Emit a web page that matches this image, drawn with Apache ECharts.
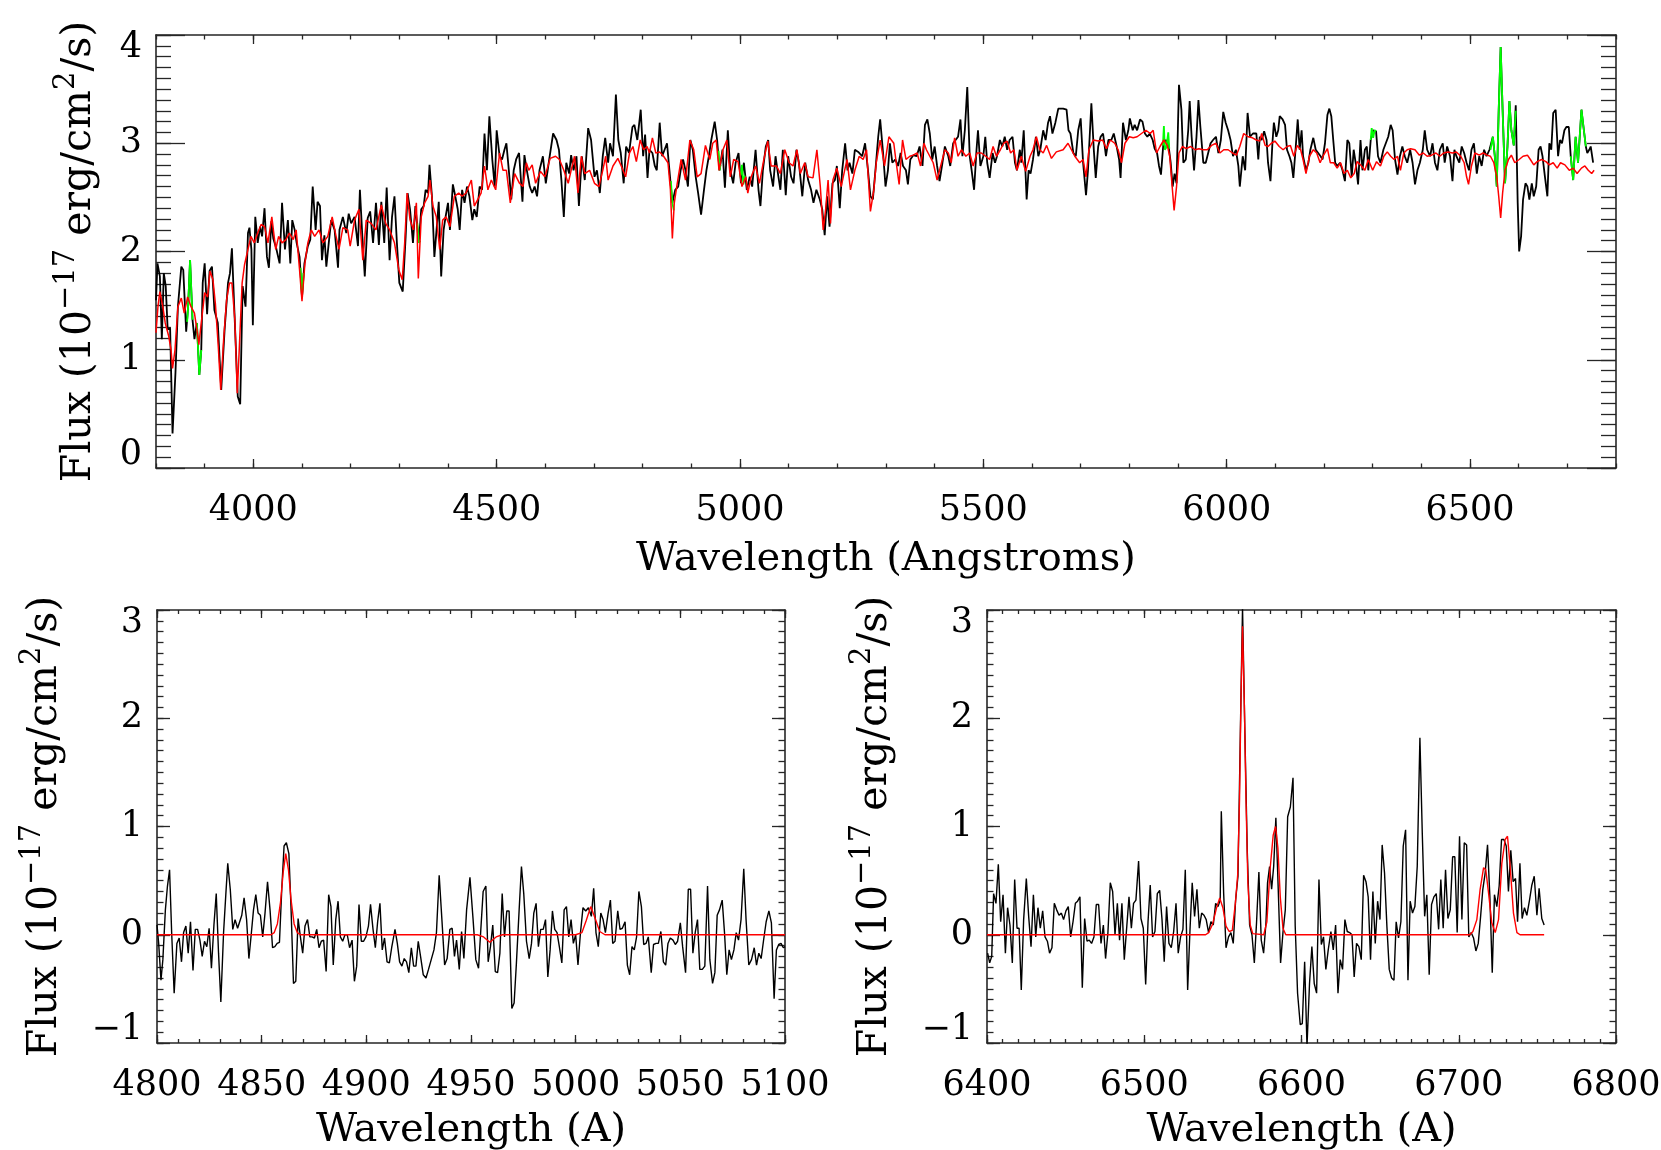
<!DOCTYPE html>
<html>
<head>
<meta charset="utf-8">
<script src="https://cdn.jsdelivr.net/npm/echarts@6/dist/echarts.min.js"></script>
<style>
  html, body { margin: 0; padding: 0; background: #fff; }
  #main { width: 1661px; height: 1150px; }
</style>
</head>
<body>
<div id="main"></div>
<script>
// ---------- data ----------
// top panel: observed spectrum (black)
var topObsWave = [
  3800,3803,3808,3812,3816,3820,3824,3829,3834,3840,
  3845,3852,3856,3862,3866,3870,3875,3879,3884,3889,
  3893,3896,3900,3905,3910,3915,3920,3927,3934,3941,
  3948,3952,3956,3961,3968,3973,3978,3984,3989,3992,
  3996,3999,4004,4009,4014,4018,4023,4028,4032,4037,
  4041,4047,4054,4059,4065,4071,4076,4080,4085,4089,
  4095,4100,4105,4112,4117,4122,4128,4132,4137,4141,
  4146,4150,4155,4160,4167,4174,4177,4184,4191,4196,
  4201,4208,4215,4219,4224,4229,4235,4240,4246,4252,
  4258,4263,4269,4274,4280,4285,4290,4295,4300,4307,
  4313,4317,4322,4328,4333,4340,4345,4350,4354,4359,
  4362,4367,4372,4377,4381,4386,4391,4395,4400,4404,
  4410,4415,4420,4424,4429,4434,4439,4444,4450,4454,
  4459,4465,4470,4475,4480,4485,4491,4496,4500,4506,
  4511,4516,4520,4525,4530,4535,4540,4546,
  4553,4557,4562,4568,4573,4578,4583,4588,4595,4601,
  4607,4616,4623,4628,4633,4638,4643,4649,4653,4658,
  4664,4669,4675,4681,4688,4694,4701,4706,4712,4718,
  4723,4729,4733,4739,4745,4750,4755,4761,4766,4772,
  4779,4783,4789,4796,4801,4805,4810,4814,4820,4825,
  4829,4835,4840,4845,4850,4855,4861,4867,4873,4878,
  4883,4888,4893,4898,4903,4909,4914,4920,4926,4931,
  4936,4941,4948,4953,4958,4964,4969,4975,4980,4986,
  4991,4997,5002,5008,5014,5020,5025,5032,5038,5042,
  5047,5053,5058,5062,5068,5073,5078,5083,5088,5094,
  5099,5105,5110,5116,5121,5128,5134,5140,5146,5151,
  5157,5164,5169,5174,5179,5184,5190,5195,5199,5205,
  5210,5216,5221,5225,5231,5236,5243,5251,5257,5263,
  5268,5273,5279,5284,5288,5294,5299,5304,
  5308,5313,5319,5325,5330,5335,5341,5345,5350,5356,
  5363,5369,5375,5380,5385,5390,5395,5400,5405,5410,
  5416,5421,5428,5432,5438,5443,5448,5453,5457,5462,
  5467,5472,5476,5481,5486,5489,5494,5500,5504,5508,
  5513,5519,5524,5528,5534,5539,5544,5549,5554,5560,
  5565,5569,5575,5578,5583,5589,5593,5597,5602,5608,
  5613,5617,5623,5628,5633,5637,5642,5648,5654,5664,
  5671,5675,5679,5685,5690,5695,5700,5705,5711,5715,
  5722,5727,5731,5736,5741,5746,5752,5757,5763,5768,
  5774,5779,5782,5787,5793,5798,5801,5807,5811,5816,
  5822,5827,5832,5837,5842,5848,5852,5857,5861,5865,
  5870,5875,5880,5885,5889,5893,5897,5902,5907,5911,
  5916,5921,5924,5928,5933,5938,5942,5946,5952,5957,
  5962,5967,5972,5978,5983,5988,5993,5998,6003,6008,
  6013,6019,6024,6027,6033,6038,6043,6048,6054,6061,
  6065,
  6068,6072,6077,6082,6085,6090,6094,6097,6102,6106,
  6109,6115,6120,6124,6129,6133,6137,6142,6146,6150,
  6154,6157,6163,6168,6172,6178,6183,6188,6193,6197,
  6202,6207,6211,6215,6219,6223,6227,6233,6238,6243,
  6248,6252,6257,6261,6266,6270,6275,6279,6284,6288,
  6291,6296,6301,6307,6311,6316,6322,6327,6332,6337,
  6341,6346,6351,6356,6361,6366,6371,6377,6382,6387,
  6392,6397,6403,6407,6412,6418,6423,6428,6433,6438,
  6444,6448,6453,6459,6464,6468,6472,6478,6483,6488,
  6493,6498,6503,6508,6514,6519,6524,6529,6534,6540,
  6542,6547,6551,6555,6559,6563,6567,6572,6577,6581,
  6585,6590,6594,6598,6601,6605,6609,6614,6618,6622,
  6627,6631,6636,6641,6645,6649,6654,6659,6663,6667,
  6671,6676,6681,6685,6689,6694,6698,6703,6707,6709,
  6712,6717,6722,6729,6734,6738,6741,6745,6748,6753
];
var topObsFlux = [
  1.55,1.89,1.77,1.19,1.80,1.68,1.28,1.29,0.32,0.88,
  1.49,1.86,1.83,1.26,1.49,1.92,1.37,1.19,1.34,0.86,
  1.09,1.71,1.89,1.42,1.82,1.86,1.46,1.34,0.72,1.28,
  1.71,1.80,2.03,1.46,0.66,0.59,1.68,1.49,2.17,2.22,
  2.02,1.32,2.32,2.08,2.23,2.14,2.40,1.95,1.85,2.28,
  2.12,2.03,1.89,2.45,2.02,2.29,1.89,2.29,2.20,2.08,
  1.95,1.58,1.89,2.05,2.11,2.60,2.20,2.46,2.42,1.92,
  2.15,1.86,2.08,2.29,2.20,1.85,2.20,2.32,2.17,2.35,
  2.26,2.32,2.05,2.57,2.14,1.77,2.31,2.37,2.08,2.45,
  2.06,2.46,2.08,2.59,1.92,2.32,2.51,2.08,1.71,1.63,
  2.14,2.54,2.39,2.08,2.42,2.08,2.39,2.42,2.57,2.54,
  2.80,2.51,1.95,2.23,2.46,1.77,2.20,2.32,2.45,2.20,
  2.62,2.51,2.39,2.20,2.57,2.45,2.60,2.51,2.29,2.39,
  2.32,2.60,2.57,3.09,2.75,3.25,2.85,2.60,3.12,2.88,
  2.85,2.94,3.00,2.75,2.48,2.75,2.85,2.91,
  2.46,2.89,2.75,2.60,2.54,2.60,2.51,2.75,2.88,2.63,
  2.82,3.09,3.03,2.94,2.66,2.32,2.82,2.72,2.89,2.75,
  2.88,2.42,2.88,2.66,3.14,3.03,2.69,2.75,2.54,2.88,
  3.05,2.82,3.00,2.88,3.45,3.03,2.91,2.63,2.97,2.91,
  3.15,3.17,3.03,3.31,2.88,3.08,2.68,2.94,2.91,2.79,
  2.75,3.19,2.88,2.94,3.00,2.75,2.45,2.57,2.60,2.75,
  2.85,2.75,2.60,3.03,2.94,2.69,2.54,2.34,2.57,2.75,
  2.88,3.03,3.20,3.03,2.75,2.94,2.59,3.12,2.75,2.63,
  2.82,2.91,2.63,2.82,2.57,2.69,2.60,2.94,2.57,2.42,
  2.75,2.97,3.03,2.75,2.60,2.88,2.72,2.57,2.94,2.52,
  2.88,2.69,2.63,2.94,2.82,2.51,2.82,2.66,2.57,2.45,
  2.57,2.48,2.39,2.15,2.51,2.23,2.63,2.66,2.79,2.40,
  2.75,3.00,2.75,2.82,2.72,2.94,2.92,2.88,3.00,2.75,
  2.51,2.48,2.79,3.06,3.22,2.91,2.60,2.75,
  3.00,2.82,2.85,2.79,2.91,2.79,2.75,2.62,2.85,2.89,
  2.88,2.97,2.79,3.17,3.22,3.09,2.85,2.97,2.79,2.65,
  2.82,2.97,2.88,2.79,3.00,3.03,3.06,3.22,2.88,3.12,
  3.52,2.88,2.75,2.57,2.94,3.12,2.79,2.88,3.06,2.82,
  2.68,2.91,2.82,2.88,3.03,2.97,3.06,2.94,3.03,3.06,
  2.82,2.75,2.94,2.82,3.12,2.48,2.75,2.72,2.85,3.06,
  2.88,2.94,3.12,3.03,3.19,3.25,3.09,3.19,3.32,3.32,
  3.31,3.12,3.09,2.91,2.88,3.12,3.23,2.82,2.52,2.75,
  3.37,2.94,2.68,2.97,3.06,3.09,2.88,3.03,3.03,3.09,
  2.97,2.85,2.68,3.19,3.03,3.12,3.23,3.12,3.17,3.12,
  3.22,3.20,3.09,3.06,3.09,3.03,2.95,2.91,2.79,2.71,
  3.00,3.03,3.00,2.82,2.60,2.72,2.63,3.54,3.31,2.82,
  2.85,3.12,3.39,3.06,2.75,3.06,3.40,3.15,2.82,2.82,
  2.91,3.00,3.03,3.06,2.91,3.03,3.29,3.19,3.12,3.03,
  2.88,2.94,2.79,2.60,2.88,2.75,3.28,3.06,3.09,3.09,
  2.85,
  3.06,3.03,3.11,3.03,2.82,2.65,3.00,3.19,3.06,3.12,
  3.25,3.22,3.17,2.94,2.88,2.82,2.68,2.97,3.22,2.94,
  3.12,2.88,2.75,2.82,2.94,3.05,2.94,2.91,2.88,2.85,
  3.00,3.26,3.32,3.25,3.03,2.82,2.79,2.82,2.75,2.65,
  3.03,3.00,2.69,2.94,2.79,2.62,3.03,2.75,2.94,2.97,
  2.75,3.03,3.12,3.11,2.88,2.82,2.94,3.00,3.06,3.17,
  3.12,2.85,2.71,2.88,2.97,2.88,2.82,2.94,2.82,2.62,
  2.75,2.82,2.94,3.12,2.94,2.88,3.00,2.82,2.75,2.94,
  3.00,2.82,2.97,2.88,2.65,2.94,2.88,2.82,2.97,2.91,
  2.82,2.75,2.94,3.00,2.72,2.88,2.79,2.94,2.88,2.94,
  2.94,3.06,2.88,2.60,3.31,3.89,3.31,2.63,2.97,3.39,
  3.12,2.98,3.35,2.45,2.00,2.14,2.48,2.63,2.60,2.48,
  2.63,2.51,2.60,2.94,2.97,2.88,2.69,2.51,3.00,2.94,
  3.28,3.31,2.88,3.03,3.00,3.12,3.15,3.15,2.88,2.79,
  2.66,3.06,2.82,3.31,3.12,2.97,2.91,2.94,2.97,2.82
];

// top panel: model spectrum (red)
var topModelWave = [
  3800,3804,3808,3814,3819,3826,3831,3834,3839,3845,
  3852,3858,3865,3872,3879,3884,3888,3893,3900,3906,
  3911,3917,3922,3928,3933,3939,3945,3951,3956,3962,
  3967,3971,3977,3982,3989,3995,4002,4009,4016,4023,
  4030,4038,4046,4052,4059,4067,4074,4082,4088,4095,
  4100,4106,4112,4119,4126,4135,4143,4153,4162,4170,
  4176,4184,4194,4199,4208,4217,4225,4232,4242,4252,
  4263,4272,4280,4290,4299,4306,4311,4316,4322,4329,
  4335,4339,4345,4352,4359,4363,4369,4376,4383,4389,
  4396,4404,4413,4422,4429,4437,4448,4454,4461,4468,
  4475,4482,4489,4498,4506,4513,4520,4528,4537,4547,
  4554,4561,4566,4573,4580,4590,4599,4610,4621,4629,
  4638,4647,4653,4660,4667,4674,4681,4691,4701,4710,
  4718,4724,4729,4739,4749,4756,4765,4773,4780,4787,
  4795,4802,4809,4814,4820,4827,4835,4843,4852,4857,
  4861,4865,4870,4879,4888,4897,4905,4912,4920,4929,
  4938,4944,4951,4957,4965,4973,4980,4987,4996,5004,
  5012,5016,5023,5032,5040,5049,5057,5064,5075,5083,
  5092,5101,5109,5117,5124,5133,5140,5150,5158,5165,
  5171,5176,5181,5186,5191,5199,5208,5215,5220,5227,
  5236,5245,5253,5260,5268,5275,5280,5288,5297,5306,
  5310,5316,5321,5327,5334,5341,5349,5356,5364,5371,
  5378,5383,5390,5397,5405,5414,5421,5428,5434,5441,
  5448,5455,5464,5472,5479,5487,5496,5505,5513,5520,
  5527,5535,5542,5549,5556,5563,5569,5578,5587,5596,
  5602,5609,5616,5623,5630,5640,5650,5664,5674,5681,
  5688,5698,5705,5711,5717,5726,5736,5745,5753,5761,
  5770,5777,5784,5791,5800,5808,5816,5825,5834,5843,
  5849,5856,5863,5871,5878,5883,5888,5892,5897,5902,
  5909,5917,5926,5935,5943,5952,5960,5969,5978,5986,
  5994,6003,6012,6020,6027,6035,6044,6053,6061,6068,
  6072,6079,6085,6092,6099,6108,6116,6124,6131,6138,
  6145,6152,6157,6163,6170,6178,6185,6192,6198,6207,
  6213,6220,6227,6234,6241,6248,6255,6262,6268,6275,
  6284,6291,6300,6308,6316,6323,6330,6337,6344,6351,
  6357,6364,6371,6378,6387,6396,6404,6412,6421,6430,
  6438,6446,6455,6464,6472,6481,6488,6493,6497,6503,
  6510,6519,6527,6535,6542,6549,6555,6559,6563,6567,
  6572,6579,6585,6592,6601,6609,6618,6624,6631,6638,
  6647,6656,6663,6671,6679,6686,6695,6704,6712,6720,
  6729,6736,6743,6750,6755
];
var topModelFlux = [
  1.25,1.49,1.63,1.49,1.34,1.22,1.09,0.92,1.09,1.49,
  1.57,1.43,1.58,1.49,1.43,1.28,1.14,1.34,1.62,1.58,
  1.82,1.74,1.52,1.12,0.72,1.19,1.55,1.71,1.71,1.37,
  0.69,1.09,1.71,1.88,2.02,2.14,2.08,2.17,2.25,2.23,
  2.08,2.32,2.02,2.14,2.08,2.11,2.17,2.11,2.20,1.83,
  1.54,1.89,2.08,2.20,2.14,2.20,2.08,2.14,2.32,2.14,
  2.02,2.22,2.20,2.05,2.29,2.39,1.92,2.29,2.26,2.20,
  2.43,2.26,2.20,2.08,1.83,1.74,2.08,2.54,2.29,2.20,
  2.45,1.75,2.32,2.45,2.51,2.66,2.42,2.32,2.02,2.29,
  2.32,2.23,2.51,2.54,2.51,2.54,2.66,2.42,2.48,2.54,
  2.79,2.57,2.66,2.57,2.91,2.75,2.75,2.45,2.72,2.63,
  2.60,2.82,2.75,2.80,2.63,2.74,2.69,2.86,2.88,2.85,
  2.75,2.63,2.75,2.88,2.54,2.88,2.72,2.75,2.63,2.60,
  2.75,2.88,2.66,2.79,2.86,2.79,2.69,2.91,2.97,2.83,
  3.03,2.94,2.97,2.91,3.05,2.91,2.92,2.88,2.82,2.57,
  2.12,2.45,2.60,2.85,2.66,3.03,2.94,2.69,2.72,2.98,
  2.85,3.00,3.03,2.75,2.94,3.03,2.69,2.85,2.83,2.60,
  2.69,2.54,2.69,2.79,2.63,2.85,3.02,2.79,2.79,2.72,
  2.94,2.82,2.79,2.94,2.72,2.82,2.69,2.68,2.94,2.60,
  2.20,2.39,2.66,2.26,2.66,2.77,2.60,2.75,2.85,2.57,
  2.75,2.88,2.85,2.94,2.37,2.57,2.82,3.03,2.79,3.06,
  3.06,3.00,2.82,2.62,3.03,2.85,2.88,2.89,2.91,2.79,
  3.00,2.94,2.88,2.82,2.66,2.82,2.94,2.91,2.82,3.05,
  2.88,2.94,2.88,2.91,2.79,2.91,2.91,2.88,2.85,2.97,
  2.88,2.94,3.00,3.02,2.91,2.94,2.75,2.88,2.74,2.88,
  2.94,3.06,2.94,2.91,2.98,2.86,2.92,2.94,3.00,2.94,
  2.88,2.82,2.85,2.69,2.94,3.03,3.02,3.03,2.95,3.03,
  3.00,2.94,2.82,3.00,3.06,3.05,3.06,3.09,3.12,3.09,
  3.12,2.91,2.97,3.03,2.98,2.88,2.60,2.38,2.60,2.91,
  2.97,2.95,2.97,2.94,2.95,2.94,2.94,2.98,3.00,2.91,
  2.94,2.94,2.91,2.89,2.97,3.09,3.06,3.05,3.03,3.02,
  3.09,2.98,2.97,3.00,3.02,2.97,2.94,2.97,2.98,2.88,
  2.98,2.94,2.85,2.72,2.88,2.94,2.91,2.82,2.88,2.95,
  2.82,2.82,2.77,2.82,2.72,2.75,2.68,2.72,2.83,2.80,
  2.75,2.85,2.75,2.83,2.79,2.88,2.92,2.88,2.85,2.88,
  2.75,2.91,2.94,2.95,2.94,2.89,2.91,2.88,2.89,2.91,
  2.88,2.91,2.92,2.91,2.92,2.88,2.82,2.69,2.62,2.79,
  2.91,2.89,2.91,2.89,2.88,2.82,2.69,2.51,2.31,2.54,
  2.75,2.85,2.89,2.82,2.85,2.88,2.89,2.85,2.80,2.83,
  2.85,2.83,2.80,2.82,2.77,2.82,2.80,2.75,2.77,2.72,
  2.77,2.79,2.75,2.72,2.75
];

// top panel: masked pixels (green), null = gap between masked runs
var maskWave = [
  3864,3866,3870,3875, 3880, 3884,3889,3893, 3990, 4097,4100,4103, 4200,
  4337,4340,4343, 4600, 4858,4861,4864, 4900, 4956,4958,4960, 4980,
  5001,5004,5007,5010, 5500, 5869,5871,5873,5876,5880,5882, 6000,
  6296,6298,6301,6304,6307, 6400,
  6542,6547,6551,6555,6559,6563,6567,6572,6577,6581,6585,6590,6594, 6650,
  6707,6709,6712,6717,6722,6729,6734,6738
];
var maskFlux = [
  1.35,1.49,1.92,1.37, null, 1.34,0.86,1.09, null, 1.85,1.58,1.80, null,
  2.26,2.08,2.10, null, 2.65,2.45,2.38, null, 2.93,2.75,2.80, null,
  2.70,2.80,2.62,2.70, null, 2.98,3.16,2.94,2.96,3.10,2.95, null,
  3.03,3.14,3.05,3.12,3.11, null,
  2.94,3.06,2.88,2.60,3.31,3.89,3.31,2.63,2.97,3.39,3.12,2.98,3.30, null,
  2.88,2.79,2.66,3.06,2.82,3.31,3.12,2.97
];

// bottom left: H-beta / [OIII] window, continuum subtracted
var hbWave = [
  4800,4800.8,4801.9,4802.8,4804,4805,4806,4807,4808.2,4809.5,
  4810.6,4811.7,4812.7,4813.8,4814.9,4816,4817.2,4818.3,4819.4,4820.5,
  4821.6,4822.7,4823.8,4824.9,4826,4827.2,4828.3,4829.4,4830.5,4831.8,
  4832.9,4833.8,4835,4836.2,4837.3,4838.5,4839.4,4840.5,4841.6,4842.8,
  4843.9,4845,4846.1,4847.2,4848.3,4849.4,4850.5,4851.6,4852.8,4854,
  4855.2,4856.3,4857.4,4858.5,4859.6,4860.7,4861.8,4863,4864,4865.2,
  4866.3,4867.4,4868.5,4869.6,4870.7,4871.9,4873,4874.1,4875.2,4876.3,
  4877.4,4878.5,4879.6,4880.8,4882,4883.1,4884.2,4885.4,4886.5,4887.6,
  4888.7,4889.8,4890.9,4892,4893.2,4894.3,4895.4,4896.5,4897.6,4898.7,
  4899.8,4901,4902,4903.2,4904.3,4905.4,4906.5,4907.6,4908.7,4909.9,
  4911,4912.1,4913.7,4914.8,4915.9,4917,4918.1,4919.2,4920.3,4921.5,
  4922.6,4923.7,4924.8,4925.9,4927.2,4928.5,4929.7,4931,4932.3,4933.5,
  4934.8,4936.1,4937.4,4938.6,4939.9,4941,4942.1,4943.1,4944.4,4945.5,
  4946.6,4947.9,4949.5,4951,4952.3,4953.6,4954.6,4955.8,4957.1,4958.2,
  4959.3,4960.4,4961.6,4962.7,4963.8,4964.9,4966,4967.1,4968.2,4969.5,
  4970.6,4971.7,4973,4974.1,4975.2,4976.5,4977.8,4978.9,4980,4981.1,
  4982.2,4983.3,4984.5,4985.6,4986.7,4987.8,4988.9,4990,4991.1,4992.2,
  4993.4,4994.5,4995.6,4996.7,4997.8,4998.9,5000,5001.1,5002.3,5003.5,
  5004.8,5006.1,5007.5,5008.6,5009.7,5010.8,5012,5013.1,5014.2,5015.5,
  5016.6,5017.7,5018.8,5020.1,5021.2,5022.3,5023.6,5024.7,5025.8,5026.9,
  5028,5029.1,5030.2,5031.4,5032.5,5033.6,5034.7,5036.1,5037.2,5038.4,
  5039.5,5040.7,5041.9,5043,5044.1,5045.2,5046.5,5047.6,5048.7,5050,
  5051.1,5052.5,5053.8,5054.9,5056,5057.1,5058.2,5059.3,5060.5,5061.7,
  5063,5064.1,5065.4,5066.5,5067.6,5068.7,5070,5071.1,5072.2,5073.3,
  5074.4,5075.6,5076.7,5077.8,5079,5080.3,5081.4,5082.7,5084,5085.3,
  5086.4,5087.5,5088.6,5089.7,5091,5092.3,5093.5,5094.8,5095.9,5097,
  5098.1,5099.2,5100
];
var hbFlux = [
  0.09,-0.08,-0.42,-0.23,0.23,0.45,0.60,0.02,-0.54,-0.08,
  -0.03,-0.25,0.02,0.08,-0.17,0.12,-0.33,0.05,0.05,-0.05,
  -0.20,-0.06,-0.11,0.06,-0.31,0.09,0.38,-0.17,-0.62,0.02,
  0.38,0.66,0.42,0.05,0.14,0.06,0.05,0.18,0.34,0.14,
  -0.22,0.00,0.23,0.37,0.20,0.18,-0.02,0.20,0.49,0.23,
  -0.12,-0.11,-0.08,-0.07,0.42,0.82,0.85,0.75,0.26,-0.45,
  -0.43,0.15,-0.02,-0.17,0.08,0.14,-0.02,-0.02,-0.03,0.05,
  -0.12,-0.06,-0.05,-0.34,0.37,0.26,-0.28,0.14,0.31,-0.02,
  -0.06,0.00,0.00,-0.12,-0.05,-0.43,-0.29,0.28,-0.06,-0.06,
  -0.02,0.08,0.28,0.05,-0.12,0.12,0.29,-0.14,-0.03,-0.25,
  -0.26,-0.12,0.05,-0.08,-0.25,-0.29,-0.22,-0.25,-0.35,-0.12,
  -0.29,-0.29,-0.06,-0.20,-0.37,-0.40,-0.32,-0.23,-0.14,0.02,
  0.55,0.14,-0.28,-0.22,0.05,0.06,-0.20,-0.05,-0.32,0.03,
  -0.22,0.23,0.53,0.14,-0.23,-0.31,0.02,0.40,0.45,-0.25,
  -0.11,0.09,-0.34,-0.35,-0.17,0.38,-0.02,0.22,0.22,-0.68,
  -0.63,-0.26,0.23,0.63,0.38,-0.06,-0.22,-0.08,0.20,0.29,
  -0.11,0.05,0.05,0.14,-0.39,-0.14,0.22,0.05,0.02,-0.11,
  -0.26,0.23,0.26,-0.02,0.14,-0.08,0.00,-0.28,0.02,0.25,
  0.22,0.25,0.17,0.43,0.02,-0.11,0.20,0.14,0.02,0.20,
  0.32,-0.08,-0.06,0.22,0.05,0.06,0.12,-0.28,-0.37,-0.11,
  -0.14,-0.02,0.40,0.26,-0.09,-0.08,-0.02,-0.35,-0.09,-0.08,
  -0.08,0.03,-0.25,-0.28,-0.08,-0.03,-0.05,-0.09,-0.06,0.11,
  -0.11,-0.35,0.42,0.42,-0.17,0.02,0.14,-0.32,-0.32,-0.29,
  0.45,-0.23,-0.45,-0.35,0.18,0.23,0.32,0.02,-0.37,-0.14,
  -0.23,-0.14,0.02,-0.05,0.14,0.61,0.14,-0.28,-0.23,-0.12,
  -0.28,-0.17,-0.22,-0.06,0.12,0.22,0.11,-0.59,-0.14,-0.09,
  -0.08,-0.12,-0.11
];
var hbModelWave = [4800,4854.5,4856,4857.5,4859,4860.3,4861.5,4862.8,4864,4865.5,4867,4868.5,
                   4953,4956,4959,4962,4965,5000,5003,5005,5007.2,5009.5,5011.5,5014,5100];
var hbModelFlux = [0,0,0.02,0.10,0.30,0.58,0.75,0.60,0.33,0.10,0.02,0,
                   0,-0.02,-0.07,-0.02,0,0,0.02,0.13,0.26,0.14,0.03,0,0];

// bottom right: H-alpha / [NII] / [SII] window, continuum subtracted
var haWave = [
  6400.4,6401.7,6403,6404.2,6405.7,6407.2,6408.7,6410.2,6411.7,6413.1,
  6414.6,6416.1,6417.6,6419.1,6420.4,6421.8,6423.3,6425,6426.5,6428,
  6429.5,6431,6432.4,6433.9,6435.4,6436.9,6438.4,6439.8,6441.3,6442.8,
  6444.3,6445.8,6447.3,6448.7,6450.2,6451.7,6453.2,6454.7,6456.2,6457.6,
  6459.1,6460.6,6462.1,6463.6,6465,6466.5,6468,6469.5,6471,6472.5,
  6474,6475.4,6476.9,6478.4,6479.9,6481.4,6482.9,6484.3,6485.8,6487.3,
  6488.8,6490.3,6491.8,6493.2,6494.7,6496.4,6497.9,6499.4,6500.9,6502.4,
  6503.8,6505.3,6506.8,6508.3,6509.8,6511.3,6512.7,6514.2,6515.7,6517.2,
  6518.7,6520.2,6521.6,6523.1,6524.6,6526.1,6527.6,6529.1,6530.5,6532,
  6533.5,6535,6536.5,6538,6539.4,6540.9,6542.4,6543.9,6545.4,6546.9,
  6548.3,6549,6550.5,6552,6553.6,6555.1,6556.6,6558.1,6559.6,6561.1,
  6562.5,6564,6565.5,6567,6568.5,6570,6571.4,6572.9,6574.4,6575.9,
  6577.4,6578.4,6579.7,6581,6582.3,6583.7,6585.2,6586.7,6588.2,6589.7,
  6591.2,6592.9,6594.6,6596,6597.5,6599.2,6600.5,6602,6603.5,6605.1,
  6606.6,6608.1,6609.6,6611.1,6612.6,6614,6615.5,6617,6618.7,6620.2,
  6621.7,6623.2,6624.6,6626.1,6627.6,6629.1,6630.6,6632.1,6633.5,6635,
  6636.5,6638,6639.5,6641,6642.4,6643.9,6645.4,6646.9,6648.4,6649.9,
  6651.3,6652.8,6654.3,6655.8,6657.3,6658.8,6660.2,6661.7,6663.2,6664.7,
  6666.2,6667.7,6669.1,6670.6,6672.1,6673.6,6675.3,6676.8,6678.3,6679.7,
  6681.2,6682.7,6684.2,6685.7,6687.2,6688.6,6690.1,6691.6,6693.1,6694.6,
  6696.1,6697.5,6699,6700.5,6702,6703.5,6705,6706.4,6707.9,6709.4,
  6710.9,6712.4,6713.9,6715.3,6716.8,6718.3,6719.8,6721.3,6722.7,6724.2,
  6725.7,6727.2,6728.7,6730.2,6731.6,6733.1,6734.6,6736.1,6737.4,6738.9,
  6740.3,6741.8,6743.3,6745,6746.5,6748,6749.7,6751.1,6752.8,6754.3
];
var haFlux = [
  -0.17,-0.26,-0.20,0.38,0.29,0.65,0.12,0.37,-0.17,0.25,
  0.09,-0.26,0.51,0.06,0.06,-0.51,0.14,0.52,0.17,-0.11,
  0.37,-0.02,0.25,0.06,0.22,-0.02,-0.06,-0.17,-0.12,0.29,
  0.23,0.18,0.20,0.14,0.22,0.26,-0.02,0.12,0.29,0.31,
  0.35,-0.49,0.15,-0.06,-0.05,-0.08,-0.02,0.28,0.28,-0.08,
  0.09,-0.22,0.02,0.48,0.40,0.00,0.29,-0.05,0.29,-0.23,
  0.06,0.35,0.06,0.29,0.32,0.68,0.15,0.06,-0.46,0.12,
  0.46,-0.02,0.03,0.38,0.41,0.14,-0.25,0.26,-0.08,-0.12,
  0.03,0.29,-0.17,-0.02,0.05,0.60,-0.51,0.05,0.48,0.17,
  0.42,0.06,0.20,0.18,0.14,0.02,0.12,0.09,0.29,0.26,
  0.32,1.14,0.38,-0.12,-0.02,0.02,-0.08,0.32,0.54,1.86,
  3.02,1.86,0.78,0.09,0.00,-0.26,0.11,0.58,-0.05,-0.17,
  0.11,0.48,0.63,0.42,0.63,1.08,0.42,-0.26,0.02,0.23,
  1.09,1.18,1.45,0.08,-0.54,-0.83,-0.82,-0.25,-1.03,-0.45,
  -0.11,-0.45,-0.54,0.51,-0.09,-0.02,-0.32,-0.14,0.03,-0.14,
  0.09,-0.54,-0.23,-0.32,0.14,0.03,0.02,0.00,-0.39,-0.08,
  -0.11,-0.23,0.55,0.49,0.35,-0.23,0.40,-0.08,0.31,0.14,
  0.83,0.57,0.08,-0.32,-0.40,-0.42,0.12,-0.03,0.12,0.82,
  0.97,-0.42,0.31,0.20,0.26,0.63,1.82,0.94,0.17,0.37,
  -0.37,0.28,0.35,0.38,0.05,0.51,0.06,0.60,0.15,0.23,
  0.72,0.72,0.02,0.91,0.14,0.85,0.83,-0.02,0.02,-0.03,
  -0.15,-0.08,0.17,0.42,0.57,0.83,0.35,-0.35,0.37,0.26,
  0.45,0.88,0.88,0.82,0.40,0.78,0.49,0.52,0.12,0.66,
  0.15,0.25,0.18,0.32,0.46,0.54,0.18,0.43,0.15,0.09
];
var haModelWave = [6400,6539,6541,6543.5,6546,6548,6550,6552,6554,6556,6558,6559.4,6560.6,6561.5,
                   6562.5,6563.6,6564.7,6565.9,6567.4,6569,6576,6578,6580,6582,6583.5,6585,6586.5,
                   6588.2,6590,6707,6709,6711.5,6713.6,6715.8,6717.2,6719,6721,6723.2,6725.3,
                   6727.4,6729.5,6731,6732.7,6734.8,6737,6739,6754.3];
var haModelFlux = [0,0,0.02,0.10,0.25,0.34,0.25,0.08,0.03,0.04,0.30,0.55,1.25,2.17,
                   2.85,2.17,1.25,0.48,0.09,0.01,0,0.12,0.60,0.92,1.00,0.80,0.35,
                   0.06,0,0,0.03,0.14,0.42,0.62,0.60,0.38,0.11,0.02,0.14,
                   0.66,0.88,0.91,0.63,0.20,0.02,0,0];

// axis ranges and tick labels
var topXMajors = [4000, 4500, 5000, 5500, 6000, 6500];
var topYMajors = [0, 1, 2, 3, 4];
var hbXMajors = [4800, 4850, 4900, 4950, 5000, 5050, 5100];
var haXMajors = [6400, 6500, 6600, 6700, 6800];
var lowYMajors = [-1, 0, 1, 2, 3];

// ---------- styling ----------
var FONT = 'DejaVu Serif';
var INK = '#000';
var FRAME = '#262626';
var TICK_SIZE = 35;
var TITLE_SIZE = 40;

function zip(w, f) {
  var out = [];
  for (var i = 0; i < w.length; i++) out.push([w[i], f[i]]);
  return out;
}

function fmtNum(v) { return v < 0 ? '\u2212' + Math.abs(v) : String(v); }

// IDL pulls the first/last y label inside the box
function tickLabels(majors, isY) {
  var lo = majors[0], hi = majors[majors.length - 1];
  return {
    show: true, customValues: majors, color: INK, fontFamily: FONT, fontSize: TICK_SIZE,
    margin: isY ? 14 : 25,
    formatter: function (v) {
      var r = Math.round(v * 1000) / 1000;
      if (majors.indexOf(r) < 0) return '';
      var s = fmtNum(r);
      if (isY && r === hi) return '{dn|' + s + '}';
      if (isY && r === lo) return '{up|' + s + '}';
      return s;
    },
    rich: {
      dn: { fontFamily: FONT, fontSize: TICK_SIZE, color: INK, padding: [26, 0, 0, 0] },
      up: { fontFamily: FONT, fontSize: TICK_SIZE, color: INK, padding: [0, 0, 26, 0] }
    }
  };
}

// 4 axes per direction: minor ticks + line on both sides, long major ticks on both sides
function frameAxes(gridIndex, sides, range, minorStep, majors, majorLen, minorLen, label, name) {
  var base = {
    type: 'value', gridIndex: gridIndex, min: range[0], max: range[1], interval: minorStep,
    splitLine: { show: false }, nameMoveOverlap: false
  };
  function tick(len, custom) {
    var t = { show: true, inside: true, length: len, lineStyle: { color: FRAME, width: 1.3 } };
    if (custom) t.customValues = custom;
    return t;
  }
  var line = { show: true, onZero: false, lineStyle: { color: FRAME, width: 1.6 } };
  var noLine = { show: false, onZero: false };
  var out = [];
  sides.forEach(function (side, k) {
    var a = Object.assign({}, base, { position: side, axisLine: line, axisTick: tick(minorLen), axisLabel: { show: false } });
    if (k === 0) {
      a.axisLabel = label;
      Object.assign(a, name);
    }
    out.push(a);
    out.push(Object.assign({}, base, { position: side, axisLine: noLine, axisTick: tick(majorLen, majors), axisLabel: { show: false } }));
  });
  return out;
}

function xName(text, gap) {
  return { name: text, nameLocation: 'middle', nameGap: gap,
           nameTextStyle: { fontFamily: FONT, fontSize: TITLE_SIZE, color: INK } };
}
function yName(gap) {
  return {
    name: '{a|Flux (10}{s|\u221217}{a| erg/cm}{s|2}{a|/s)}',
    nameLocation: 'middle', nameRotate: 90, nameGap: gap,
    nameTextStyle: {
      rich: {
        a: { fontFamily: FONT, fontSize: 41, color: INK },
        s: { fontFamily: FONT, fontSize: 29, color: INK, padding: [0, 0, 26, 0] }
      }
    }
  };
}

var xAxes = [].concat(
  frameAxes(0, ['bottom', 'top'], [3800, 6800], 100, topXMajors, 9, 4.5, tickLabels(topXMajors, false), xName('Wavelength (Angstroms)', 72)),
  frameAxes(1, ['bottom', 'top'], [4800, 5100], 10, hbXMajors, 8, 4, tickLabels(hbXMajors, false), xName('Wavelength (A)', 68)),
  frameAxes(2, ['bottom', 'top'], [6400, 6800], 10, haXMajors, 8, 4, tickLabels(haXMajors, false), xName('Wavelength (A)', 68))
);
var yAxes = [].concat(
  frameAxes(0, ['left', 'right'], [0, 4], 0.1, topYMajors, 29, 15, tickLabels(topYMajors, true), yName(49)),
  frameAxes(1, ['left', 'right'], [-1, 3], 0.1, lowYMajors, 13, 6.5, tickLabels(lowYMajors, true), yName(84)),
  frameAxes(2, ['left', 'right'], [-1, 3], 0.1, lowYMajors, 13, 6.5, tickLabels(lowYMajors, true), yName(84))
);

function lineSeries(axis, data, color, width, z) {
  return {
    type: 'line', xAxisIndex: axis, yAxisIndex: axis, data: data,
    showSymbol: false, symbol: 'none', silent: true, z: z,
    lineStyle: { color: color, width: width }
  };
}

var chart = echarts.init(document.getElementById('main'), null, { renderer: 'canvas' });
chart.setOption({
  backgroundColor: '#fff',
  animation: false,
  grid: [
    { left: 156, top: 35, width: 1460, height: 433, outerBoundsMode: 'none' },
    { left: 157, top: 610, width: 628, height: 433, outerBoundsMode: 'none' },
    { left: 987, top: 610, width: 629, height: 433, outerBoundsMode: 'none' }
  ],
  xAxis: xAxes,
  yAxis: yAxes,
  series: [
    lineSeries(0, zip(topObsWave, topObsFlux), '#000000', 1.8, 2),
    lineSeries(0, zip(maskWave, maskFlux), '#00ff00', 1.8, 3),
    lineSeries(0, zip(topModelWave, topModelFlux), '#ff0000', 1.5, 4),
    lineSeries(4, zip(hbWave, hbFlux), '#000000', 1.4, 2),
    lineSeries(4, zip(hbModelWave, hbModelFlux), '#ff0000', 1.4, 3),
    lineSeries(8, zip(haWave, haFlux), '#000000', 1.4, 2),
    lineSeries(8, zip(haModelWave, haModelFlux), '#ff0000', 1.4, 3)
  ]
});
</script>
</body>
</html>
